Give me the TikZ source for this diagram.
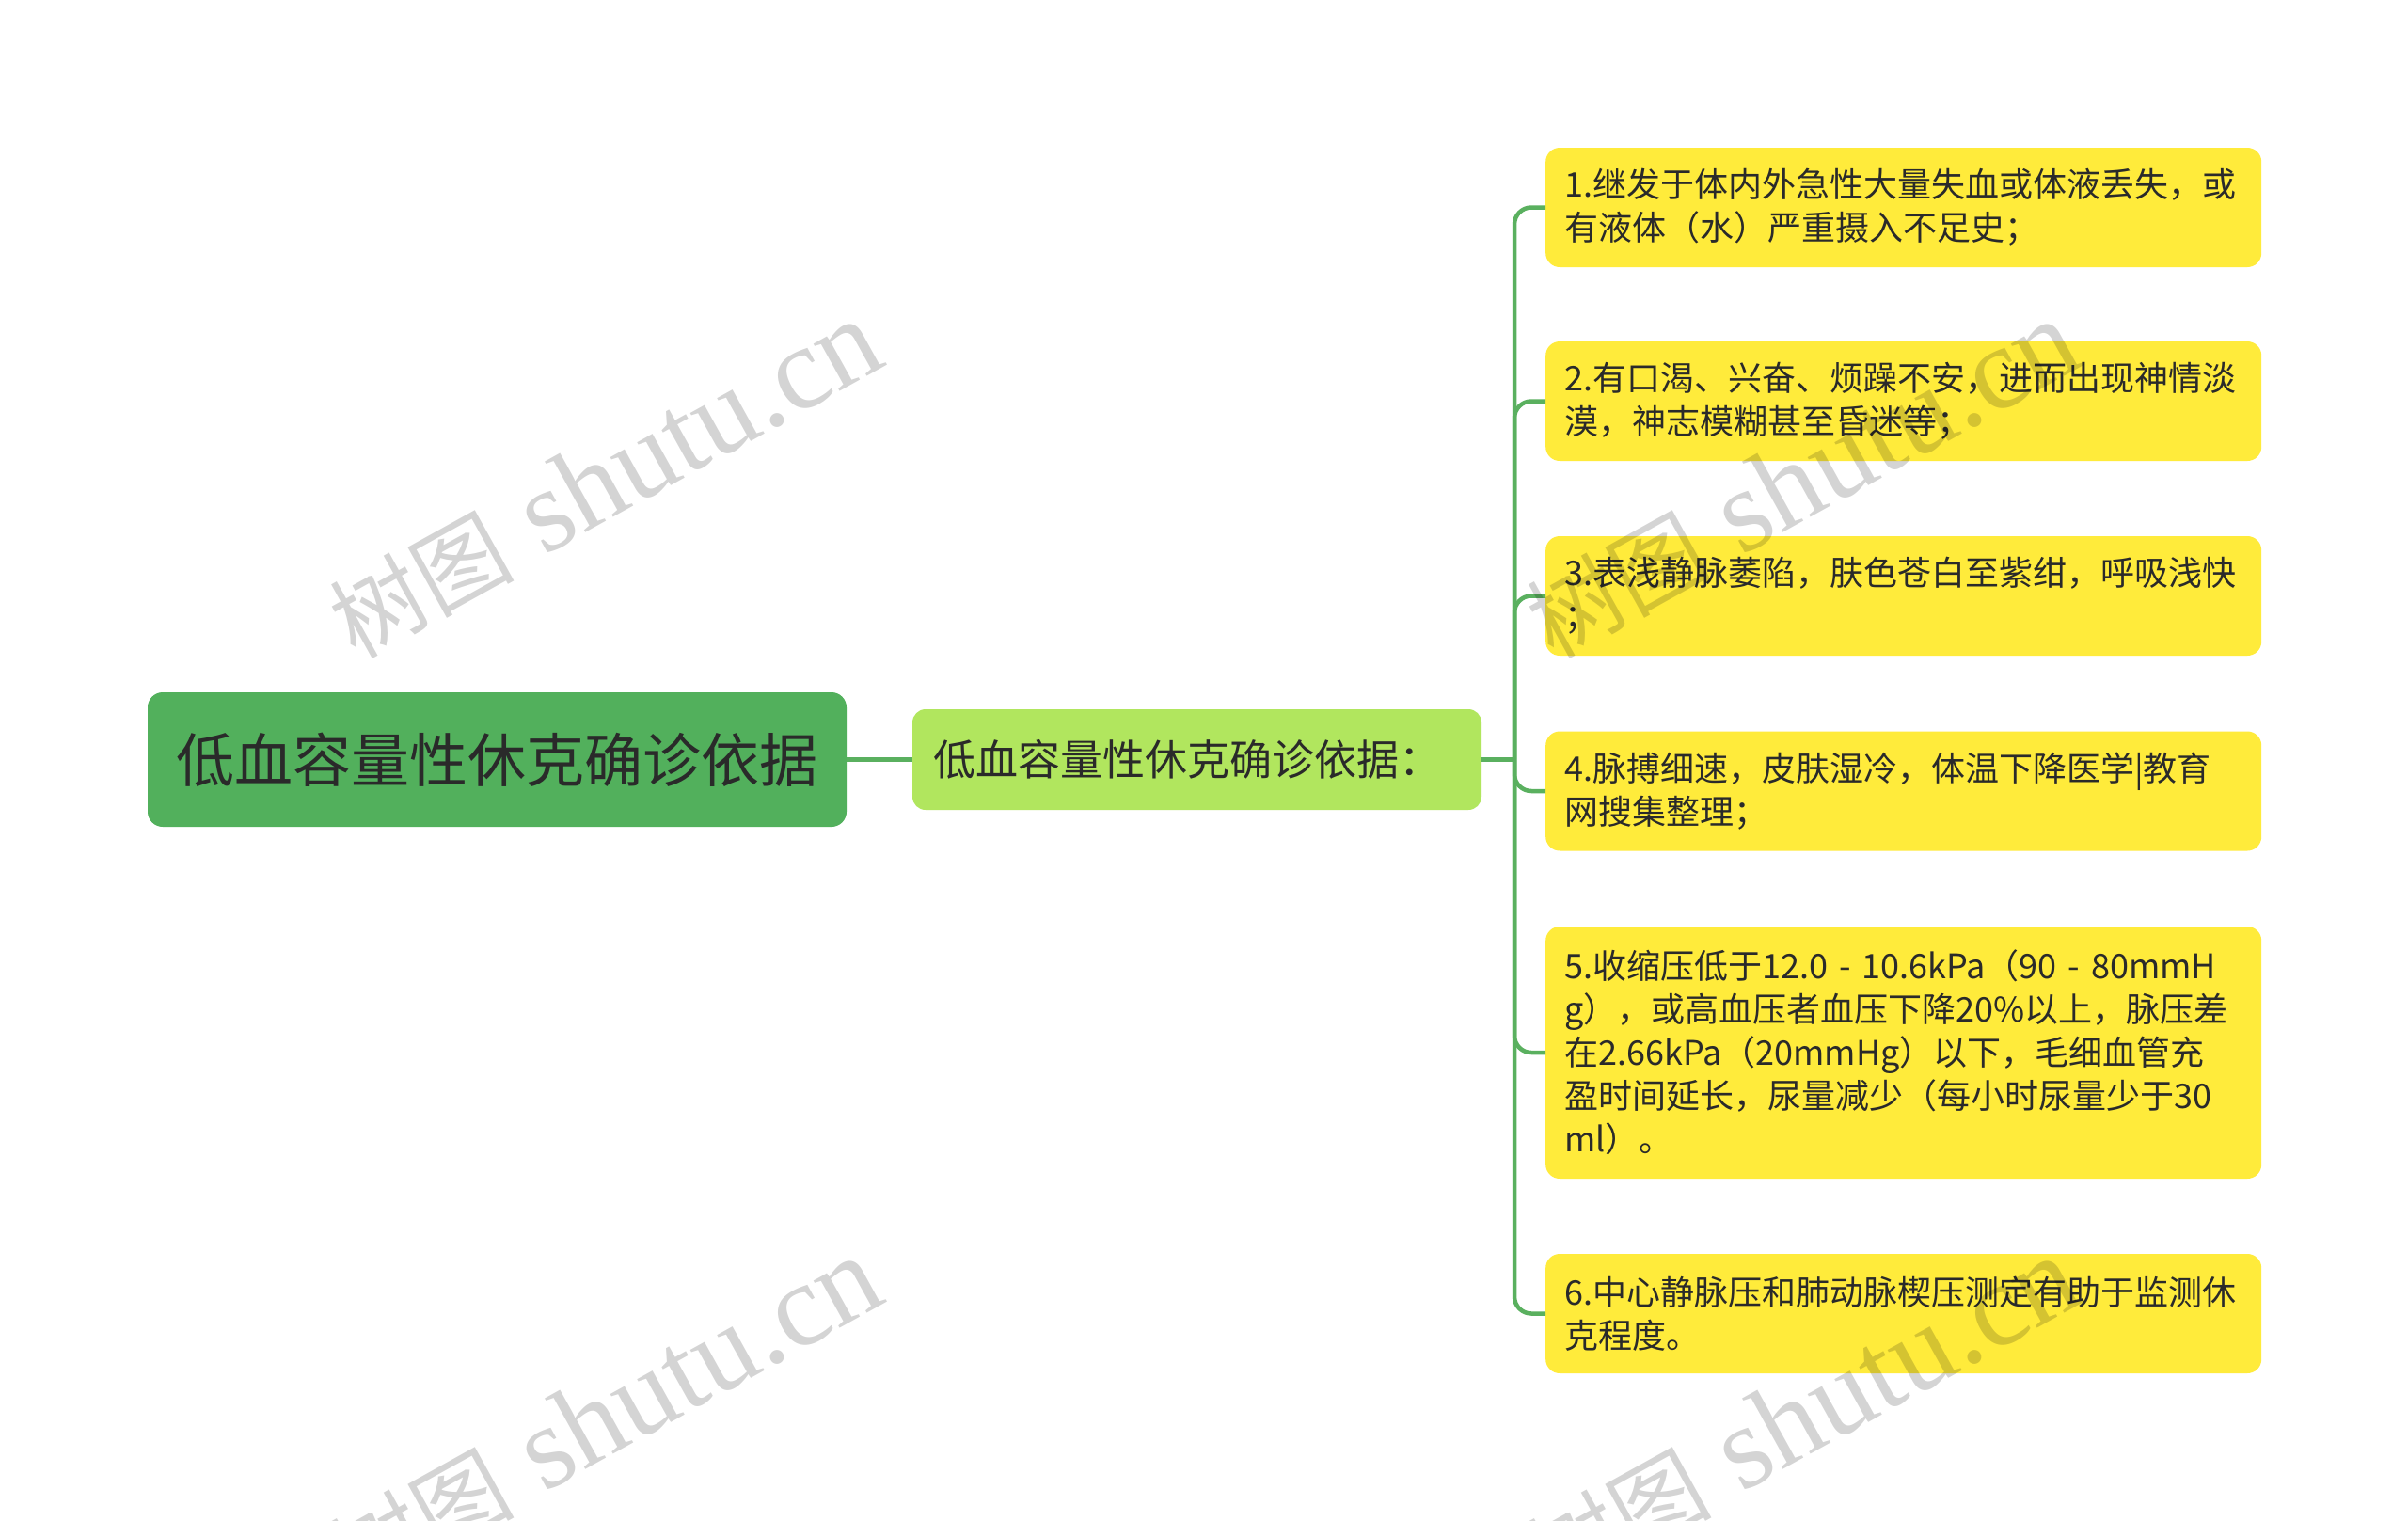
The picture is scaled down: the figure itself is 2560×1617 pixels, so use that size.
\documentclass[tikz,border=0pt]{standalone}
\usepackage{fontspec}
\newfontfamily\cjk{Noto Sans CJK SC}
\newfontfamily\wmfont{Liberation Serif}
\definecolor{rootgreen}{HTML}{52B05C}
\definecolor{subgreen}{HTML}{B1E65E}
\definecolor{leafyellow}{HTML}{FFEB3B}
\definecolor{linegreen}{HTML}{5AB05F}
\definecolor{textdark}{HTML}{2A2A2A}
\newcommand{\wmtext}{{\cjk\fontsize{98}{98}\selectfont 树图}\hspace{32pt}{\wmfont\fontsize{125}{125}\selectfont shutu.cn}}

\begin{document}
\begin{tikzpicture}[x=1pt,y=-1pt]

    \tikzset{rootstyle/.style={fill=rootgreen,rounded corners=16pt,inner sep=0pt,minimum width=743pt,minimum height=143pt,text=textdark,font=\cjk\fontsize{62}{70}\selectfont}}
    \tikzset{substyle/.style={fill=subgreen,rounded corners=14pt,inner xsep=22pt,inner ysep=0pt,text width=561pt,align=left,minimum width=605pt,minimum height=107pt,text=textdark,font=\cjk\fontsize{45}{52}\selectfont}}
    \tikzset{leafstyle/.style={fill=leafyellow,rounded corners=15pt,anchor=west,inner xsep=20pt,inner ysep=0pt,text width=721pt,align=left,minimum width=761pt,minimum height=127pt,text=textdark,font=\cjk\fontsize{36}{46}\selectfont}}
    \tikzset{wmstyle/.style={rotate=29,text=black,text opacity=0.17}}

    \useasboundingbox (0,0) rectangle (2560,1617);
    \fill[white] (0,0) rectangle (2560,1617);

    \node[rootstyle] (root) at (528.5,807.5) {低血容量性休克确诊依据};
    \node[substyle] (sub) at (1272.5,807.5) {低血容量性休克确诊依据：};
    \coordinate (hub) at (1610,807.5);

    \node[leafstyle] (l1) at (1643,220.5) {1.继发于体内外急性大量失血或体液丢失，或\\有液体（水）严重摄入不足史；};
    \node[leafstyle] (l2) at (1643,426.5) {2.有口渴、兴奋、烦躁不安，进而出现神情淡\\漠，神志模糊甚至昏迷等；};
    \node[leafstyle] (l3) at (1643,633.5) {3.表浅静脉萎陷，肤色苍白至紫绀，呼吸浅快\\；};
    \node[leafstyle] (l4) at (1643,841) {4.脉搏细速，皮肤湿冷，体温下降医学|教育\\网搜集整理；};
    \node[leafstyle,minimum height=268pt] (l5) at (1643,1119) {5.收缩压低于12.0 - 10.6kPa（90 - 80mmH\\g），或高血压者血压下降20\%以上，脉压差\\在2.66kPa（20mmHg）以下，毛细血管充\\盈时间延长，尿量减少（每小时尿量少于30\\ml）。};
    \node[leafstyle] (l6) at (1643,1396.5) {6.中心静脉压和肺动脉楔压测定有助于监测休\\克程度。};

    \begin{scope}[every path/.style={draw=linegreen,line width=4.5pt}]
        \draw (root.east) -- (sub.west);
        \draw (sub.east) -- (hub);
        \draw[rounded corners=18pt] (hub) |- (l1.west);
        \draw[rounded corners=18pt] (hub) |- (l2.west);
        \draw[rounded corners=18pt] (hub) |- (l3.west);
        \draw[rounded corners=18pt] (hub) |- (l4.west);
        \draw[rounded corners=18pt] (hub) |- (l5.west);
        \draw[rounded corners=18pt] (hub) |- (l6.west);
    \end{scope}

    \node[wmstyle] (wm1) at (643,510) {\wmtext};
    \node[wmstyle] (wm2) at (643,1506) {\wmtext};
    \node[wmstyle] (wm3) at (1916,510) {\wmtext};
    \node[wmstyle] (wm4) at (1916,1506) {\wmtext};
\end{tikzpicture}
\end{document}
